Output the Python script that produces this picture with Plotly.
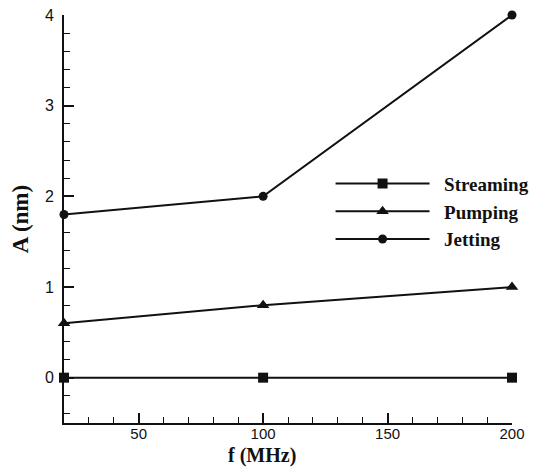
import plotly.graph_objects as go

freq = [20, 100, 200]
streaming = [0.0, 0.0, 0.0]
pumping = [0.6, 0.8, 1.0]
jetting = [1.8, 2.0, 4.0]

series = [
    ("Streaming", streaming, "square", 10),
    ("Pumping", pumping, "triangle-up", 11),
    ("Jetting", jetting, "circle", 9),
]

fig = go.Figure()
for name, vals, sym, sz in series:
    fig.add_trace(go.Scatter(
        x=freq, y=vals, name="<b>&nbsp;&nbsp;" + name + "</b>", mode="lines+markers",
        line=dict(color="#111111", width=2),
        marker=dict(symbol=sym, size=sz, color="#111111"),
        cliponaxis=False,
    ))

axis_common = dict(
    showline=True, linecolor="#111111", linewidth=2,
    ticks="inside", ticklen=10, tickwidth=2, tickcolor="#111111",
    showgrid=False, zeroline=False, mirror=False, automargin=False,
    tickfont=dict(family="Liberation Sans, Arial", size=16, color="#111111"),
)

fig.update_xaxes(
    range=[20, 200], tickvals=[50, 100, 150, 200],
    tickfont=dict(family="Liberation Sans, Arial", size=15, color="#111111"),
    minor=dict(ticks="inside", ticklen=6, tickwidth=1, tickcolor="#111111", dtick=10, tick0=0),
    ticklabelstandoff=-4,
    **{k: v for k, v in axis_common.items() if k != "tickfont"},
)
fig.update_yaxes(
    range=[-0.5, 4], tickvals=[0, 1, 2, 3, 4],
    minor=dict(ticks="inside", ticklen=6, tickwidth=1, tickcolor="#111111", dtick=0.2, tick0=0),
    title=dict(text="<b>A (nm)</b>", font=dict(family="Liberation Serif, Times New Roman", size=23, color="#111111"), standoff=10),
    ticklabelstandoff=5,
    **axis_common,
)

fig.add_annotation(
    text="<b>f (MHz)</b>", xref="paper", yref="paper", x=0.443, y=0,
    yshift=-32, xanchor="center", yanchor="middle", showarrow=False,
    font=dict(family="Liberation Serif, Times New Roman", size=20, color="#111111"),
)

fig.update_layout(
    width=537, height=467,
    margin=dict(l=64, r=25, t=15, b=44, autoexpand=False),
    paper_bgcolor="white", plot_bgcolor="white",
    showlegend=True,
    legend=dict(
        x=0.595, y=0.633, xanchor="left", yanchor="top",
        bgcolor="rgba(0,0,0,0)",
        font=dict(family="Liberation Serif, Times New Roman", size=19, color="#111111"),
        itemwidth=94, tracegroupgap=0,
    ),
)

fig.write_html("out.html")
